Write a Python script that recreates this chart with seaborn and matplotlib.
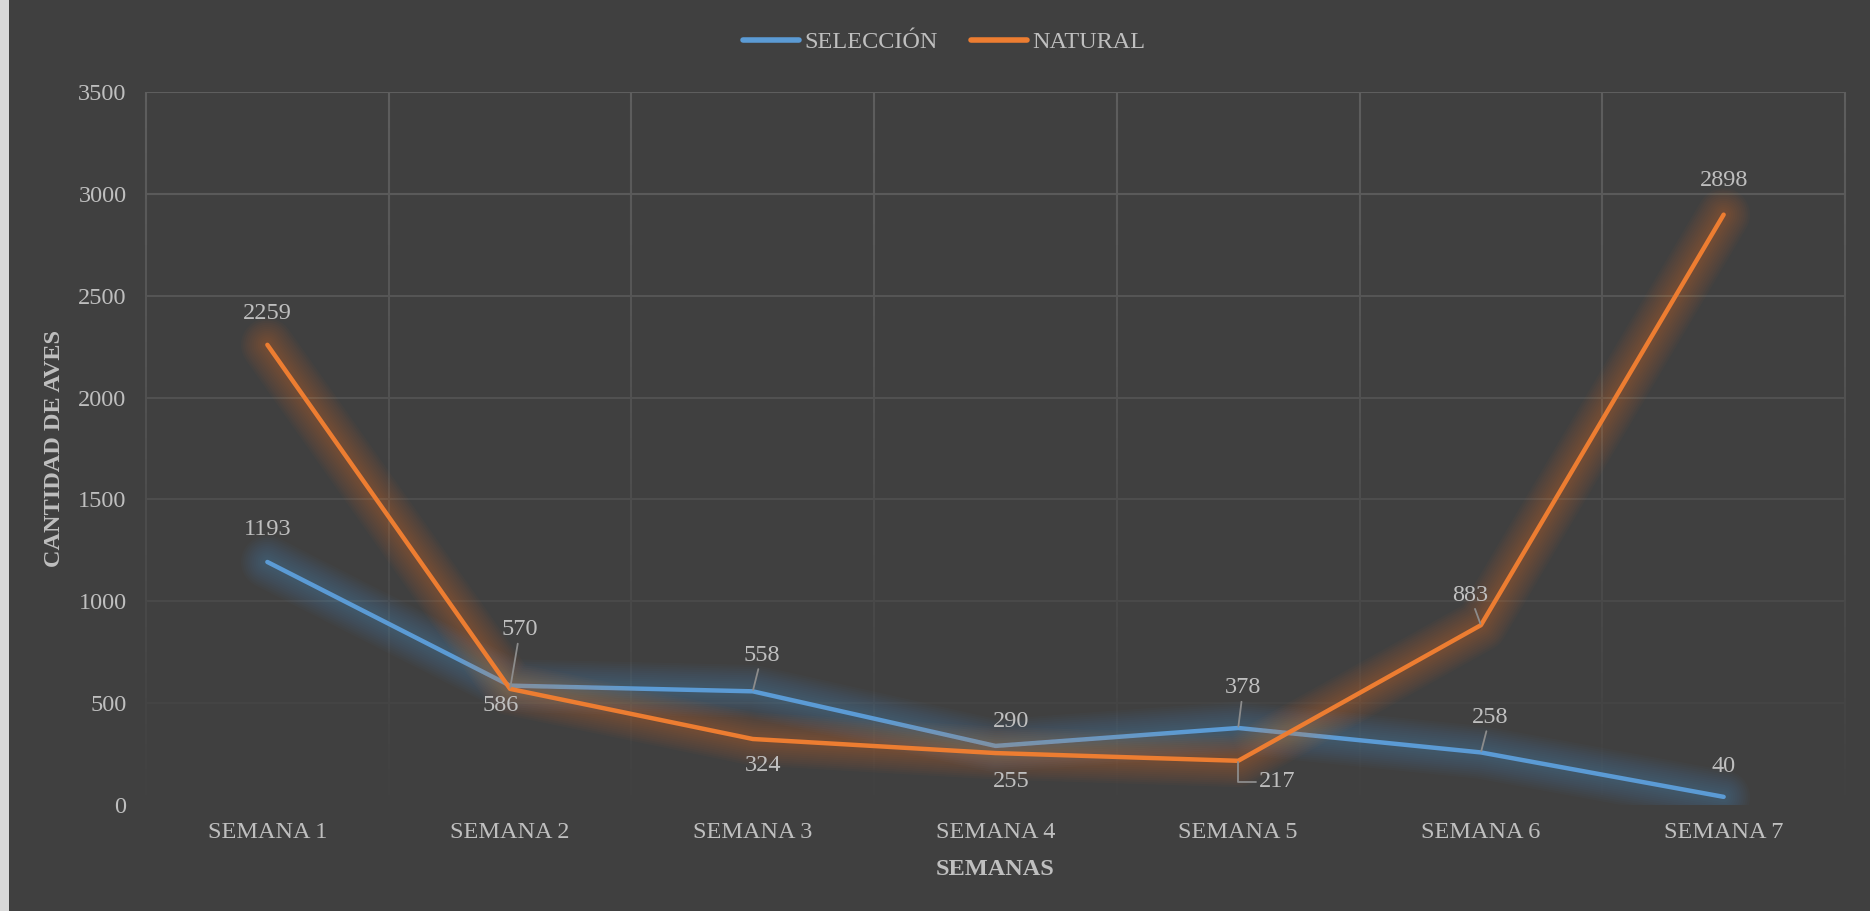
import numpy as np
import pandas as pd
import matplotlib
matplotlib.use("Agg")
import matplotlib.pyplot as plt
import matplotlib.patheffects as pe
from matplotlib.collections import LineCollection
from matplotlib.colors import to_rgb
from matplotlib.lines import Line2D
from matplotlib.patches import Rectangle
import seaborn as sns

# ---- data -------------------------------------------------------------
semanas = ["SEMANA 1", "SEMANA 2", "SEMANA 3", "SEMANA 4",
           "SEMANA 5", "SEMANA 6", "SEMANA 7"]
seleccion = [1193, 586, 558, 290, 378, 258, 40]
natural = [2259, 570, 324, 255, 217, 883, 2898]
series_names = ["SELECCIÓN", "NATURAL"]
y_ticks = [0, 500, 1000, 1500, 2000, 2500, 3000, 3500]

df = pd.DataFrame({
    "semana": semanas * 2,
    "aves": seleccion + natural,
    "serie": [series_names[0]] * len(semanas) + [series_names[1]] * len(semanas),
})

# ---- style ------------------------------------------------------------
BG = "#404040"
TXT = "#bfbfbf"
GRID_TOP = "#5e5e5e"
LEADER = "#8c8c8c"
FS = 17.5
colors = {"SELECCIÓN": "#5b9bd5", "NATURAL": "#ed7d31"}

sns.set_theme(style="dark")
plt.rcParams["font.family"] = ["Liberation Serif", "DejaVu Serif"]
plt.rcParams["axes.unicode_minus"] = False

W, H = 1870, 911
fig = plt.figure(figsize=(W / 100, H / 100), dpi=100, facecolor=BG)
ax = fig.add_axes([146 / W, 1 - 805 / H, (1845 - 146) / W, (805 - 92) / H])
ax.set_facecolor(BG)

# thin light strip on the left edge of the canvas
fig.patches.append(Rectangle((0, 0), 9 / W, 1, transform=fig.transFigure,
                             facecolor="#d9d9d9", edgecolor="none", zorder=10))

ymax = y_ticks[-1]
ncat = len(semanas)


def grid_color(y):
    t = y / ymax
    a = np.array(to_rgb(BG))
    b = np.array(to_rgb(GRID_TOP))
    return tuple(a + (b - a) * t)


# gradient gridlines (fade toward the bottom)
for yv in y_ticks[1:]:
    ax.axhline(yv, color=grid_color(yv), lw=1.5, zorder=0.5)

ys = np.linspace(0, ymax, 141)
for xb in np.arange(-0.5, ncat, 1.0):
    segs = [[(xb, ys[i]), (xb, ys[i + 1])] for i in range(len(ys) - 1)]
    cols = [grid_color(0.5 * (ys[i] + ys[i + 1])) for i in range(len(ys) - 1)]
    lc = LineCollection(segs, colors=cols, linewidths=1.5, zorder=0.5)
    lc.set_clip_on(False)
    ax.add_collection(lc)

# ---- lines ------------------------------------------------------------
sns.lineplot(data=df, x="semana", y="aves", hue="serie", hue_order=series_names,
             palette=colors, linewidth=3.2, sort=False, legend=False, ax=ax,
             zorder=3)

# soft glow: many thin translucent strokes, widest first
glow_widths = np.arange(38, 5, -3)
for line, name in zip(ax.lines[-2:], series_names):
    c = colors[name]
    line.set_solid_capstyle("round")
    line.set_solid_joinstyle("round")
    effects = [pe.Stroke(linewidth=float(w), foreground=c, alpha=0.03,
                         capstyle="round", joinstyle="round")
               for w in glow_widths]
    effects.append(pe.Normal())
    line.set_path_effects(effects)

ax.set_xlim(-0.5, ncat - 0.5)
ax.set_ylim(0, ymax)
ax.set_yticks(y_ticks)
ax.set_xticks(range(ncat))
ax.set_xticklabels(semanas)
ax.tick_params(axis="both", length=0, colors=TXT, labelsize=FS)
ax.tick_params(axis="y", pad=14)
ax.tick_params(axis="x", pad=12)
for s in ax.spines.values():
    s.set_visible(False)
ax.grid(False)

ax.set_xlabel("SEMANAS", fontsize=FS, fontweight="bold", color=TXT, va="center")
ax.set_ylabel("CANTIDAD DE AVES", fontsize=FS, fontweight="bold", color=TXT, va="center")
ax.xaxis.set_label_coords(0.5, -0.0898)
ax.yaxis.set_label_coords(-0.0536, 0.5)

# ---- data labels --------------------------------------------------------
values = {"SELECCIÓN": seleccion, "NATURAL": natural}
# (series, week index, dx px, dy px, leader style)
label_layout = [
    ("NATURAL", 0, 0, 31, None),
    ("SELECCIÓN", 0, 0, 32, None),
    ("NATURAL", 1, 10, 59, "straight"),
    ("SELECCIÓN", 1, -9, -20, None),
    ("SELECCIÓN", 2, 9, 36, "straight"),
    ("NATURAL", 2, 10, -27, None),
    ("SELECCIÓN", 3, 16, 24, None),
    ("NATURAL", 3, 16, -28, None),
    ("SELECCIÓN", 4, 5, 40, "straight"),
    ("NATURAL", 4, 21, -21, "elbow"),
    ("NATURAL", 5, -11, 30, "straight"),
    ("SELECCIÓN", 5, 9, 35, "straight"),
    ("NATURAL", 6, 0, 34, None),
    ("SELECCIÓN", 6, 0, 30, None),
]

for name, i, dx, dy, leader in label_layout:
    v = values[name][i]
    kw = dict(xy=(i, v), xytext=(dx, dy), textcoords="offset pixels",
              fontsize=FS, color=TXT, ha="center", va="center", zorder=5)
    if leader == "straight":
        kw["arrowprops"] = dict(arrowstyle="-", color=LEADER, lw=1.3,
                                shrinkA=0, shrinkB=1)
    elif leader == "elbow":
        kw["ha"] = "left"
        kw["arrowprops"] = dict(arrowstyle="-", color=LEADER, lw=1.3,
                                shrinkA=0, shrinkB=1,
                                connectionstyle="angle,angleA=0,angleB=90,rad=0")
    ax.annotate(str(v), **kw)

# ---- legend -------------------------------------------------------------
handles = [Line2D([0], [0], color=colors[n], lw=4, solid_capstyle="round")
           for n in series_names]
fig.legend(handles, series_names, loc="center", bbox_to_anchor=(0.505, 1 - 42 / H),
           ncol=2, frameon=False, fontsize=FS, labelcolor=TXT,
           handlelength=2.3, handletextpad=0.2, columnspacing=1.4)

fig.savefig("out.png", dpi=100, facecolor=BG)
